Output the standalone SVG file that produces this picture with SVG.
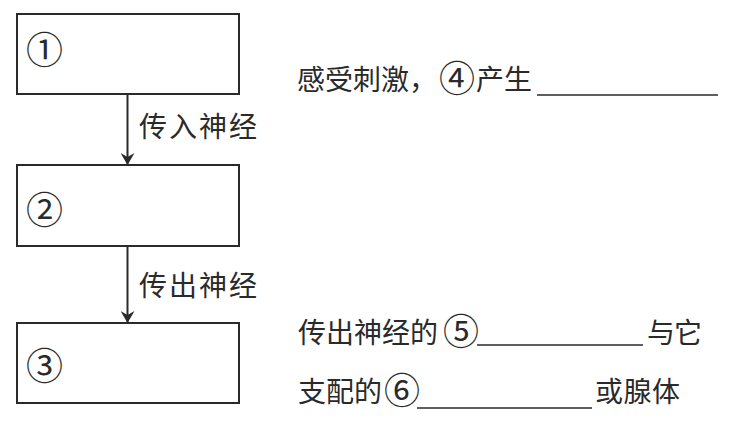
<svg xmlns="http://www.w3.org/2000/svg" width="736" height="424" viewBox="0 0 736 424">
<defs>
<style>
.box{fill:#fff;stroke:#2a2a2a;stroke-width:2}
.t{font-family:"Noto Sans CJK SC","Noto Sans",sans-serif;font-size:28px;fill:#2a2a2a}
.n{font-family:"Noto Sans CJK SC","DejaVu Serif",serif;font-size:37px;fill:#2a2a2a}
.d{font-size:36px}
.c{stroke:#2a2a2a;stroke-width:2;fill:none}
.u{stroke:#2a2a2a;stroke-width:1.5}
</style>
<marker id="ah" markerWidth="12" markerHeight="14" refX="11" refY="7" orient="auto" markerUnits="userSpaceOnUse">
<path d="M0,0 L12,7 L0,14 L4,7 Z" fill="#2a2a2a"/>
</marker>
</defs>
<rect width="736" height="424" fill="#fff"/>
<g id="node1"><rect class="box" x="17" y="14" width="222" height="80"/><text class="n" x="26" y="64">①</text></g>
<g id="node2"><rect class="box" x="17" y="165" width="222" height="81"/><text class="n" x="26" y="224">②</text></g>
<g id="node3"><rect class="box" x="17" y="323" width="222" height="80"/><text class="n" x="26" y="380">③</text></g>
<g id="connectors">
<line class="c" x1="127.5" y1="94" x2="127.5" y2="164" marker-end="url(#ah)"/>
<line class="c" x1="127.5" y1="246" x2="127.5" y2="322" marker-end="url(#ah)"/>
<text class="t" x="139" y="137" textLength="118">传入神经</text>
<text class="t" x="139" y="296" textLength="118">传出神经</text>
</g>
<g id="notes">
<text class="t" x="297" y="90">感受刺激，<tspan class="d" x="439" y="92">④</tspan><tspan x="476" y="90">产生</tspan></text>
<line class="u" x1="537" y1="95" x2="718" y2="95"/>
<text class="t" x="298" y="343">传出神经的<tspan class="d" x="443" y="345">⑤</tspan></text>
<line class="u" x1="477" y1="345" x2="643" y2="345"/>
<text class="t" x="647" y="343" textLength="55">与它</text>
<text class="t" x="298" y="402">支配的<tspan class="d" x="384" y="404">⑥</tspan></text>
<line class="u" x1="417" y1="408" x2="592" y2="408"/>
<text class="t" x="595" y="402" textLength="85">或腺体</text>
</g>
</svg>
